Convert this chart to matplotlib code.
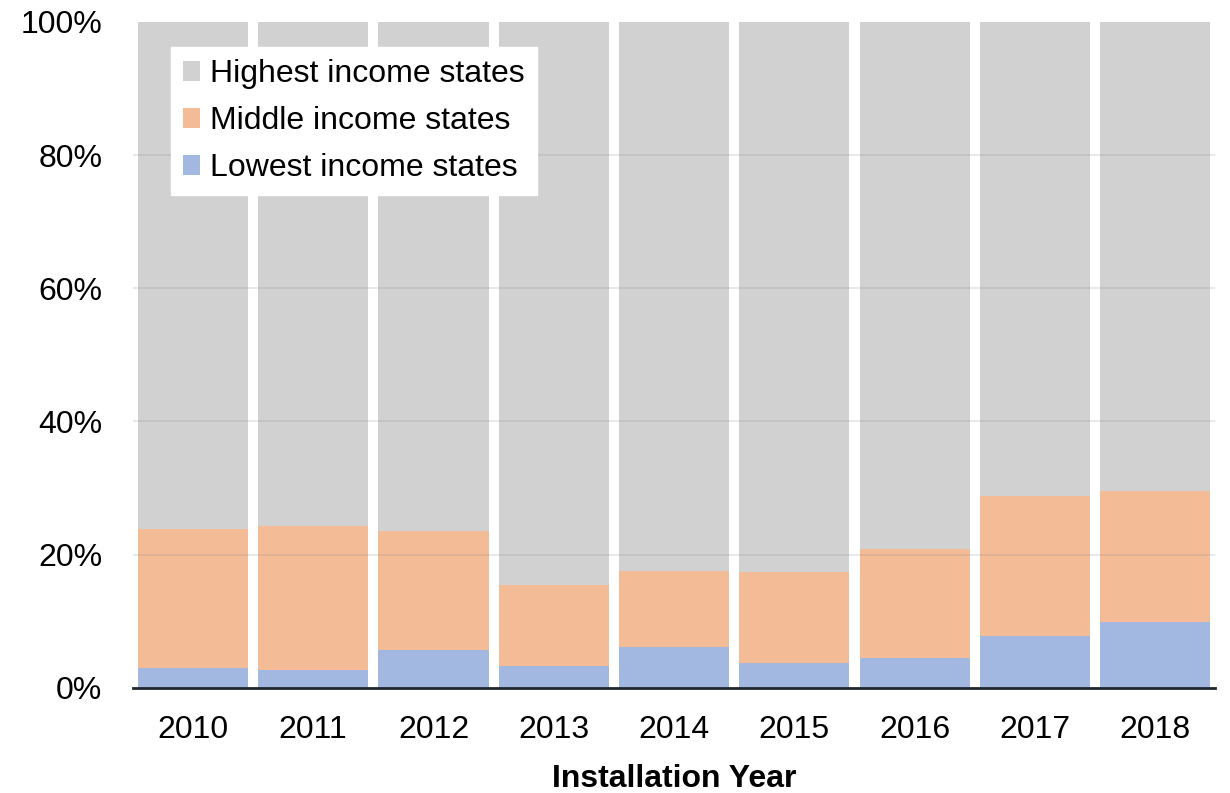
import numpy as np
import matplotlib
matplotlib.use("Agg")
from matplotlib import pyplot as plt

#---------------------------Data---------------------------#

years = ["2010", "2011", "2012", "2013", "2014", "2015", "2016", "2017", "2018"]

# share of installations per state income group [%]
lowest = np.array([3.0, 2.7, 5.6, 3.2, 6.1, 3.7, 4.4, 7.8, 9.9])
middle_top = np.array([23.8, 24.3, 23.5, 15.4, 17.6, 17.4, 20.9, 28.8, 29.5])
middle = middle_top - lowest
highest = 100.0 - middle_top

#---------------------------Plotting---------------------------#

plt.rcParams['font.family'] = ['Liberation Sans', 'DejaVu Sans']
fs = 23

fig = plt.figure(figsize=(12.3, 7.93), dpi=100)
ax = fig.add_axes([0.108, 0.1328, 0.880, 0.8395])

x = np.arange(len(years))
w = 0.915
ax.bar(x, lowest, w, color="#A2B8E0", label="Lowest income states", zorder=1)
ax.bar(x, middle, w, bottom=lowest, color="#F4BC96", label="Middle income states", zorder=1)
ax.bar(x, highest, w, bottom=middle_top, color="#D1D1D1", label="Highest income states", zorder=1)

ax.set_xlim(-0.5, len(years) - 0.5)
ax.set_ylim(0, 100)
ax.set_yticks(np.arange(0, 101, 20))
ax.set_yticklabels([f"{v}%" for v in range(0, 101, 20)])
ax.set_xticks(x)
ax.set_xticklabels(years)
ax.tick_params(axis='y', length=0, pad=22, labelsize=fs)
ax.tick_params(axis='x', length=0, pad=20, labelsize=fs)

for g in range(20, 100, 20):
    ax.axhline(g, color="#808080", alpha=0.2, lw=1.2, zorder=2)

for s in ["top", "right", "left"]:
    ax.spines[s].set_visible(False)
ax.spines["bottom"].set_color("#1f2630")
ax.spines["bottom"].set_linewidth(2)
ax.spines["bottom"].set_zorder(3)

ax.set_xlabel("Installation Year", fontsize=fs, fontweight="bold", labelpad=13)

handles, labels = ax.get_legend_handles_labels()
leg = ax.legend(handles[::-1], labels[::-1], loc="upper left",
                bbox_to_anchor=(0.035, 0.962), fontsize=fs, frameon=True,
                fancybox=False, edgecolor="white", framealpha=1,
                handlelength=0.55, handleheight=0.55, handletextpad=0.3,
                labelspacing=0.53, borderpad=0.38, borderaxespad=0)
leg.set_zorder(5)

fig.savefig("out.png", dpi=100)
